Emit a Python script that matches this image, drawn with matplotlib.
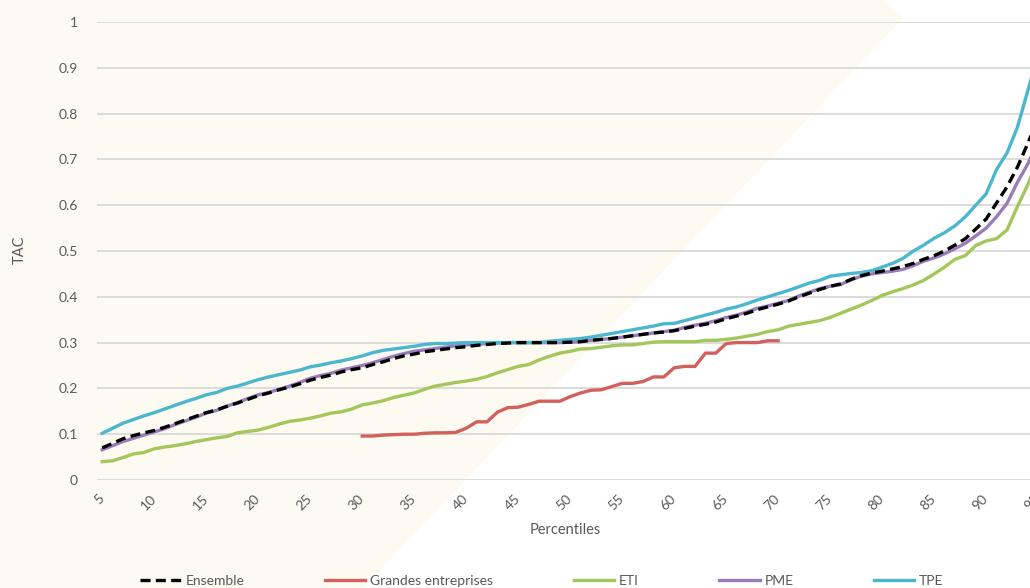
import matplotlib
matplotlib.use("Agg")
import matplotlib.pyplot as plt
from matplotlib.patches import Polygon

plt.rcParams['font.family'] = ['Lato', 'DejaVu Sans']

percentiles = list(range(5, 96))

tpe = [.102, .113, .124, .132, .140, .147, .155, .163, .171, .178,
       .186, .191, .200, .205, .212, .219, .225, .230, .235, .240,
       .247, .251, .256, .260, .265, .271, .278, .283, .286, .289,
       .292, .296, .298, .298, .299, .300, .300, .300, .300, .300,
       .300, .300, .300, .303, .305, .307, .309, .312, .316, .320,
       .324, .328, .332, .336, .341, .342, .348, .354, .360, .366,
       .373, .378, .385, .393, .400, .407, .414, .422, .430, .436,
       .445, .448, .451, .453, .457, .465, .473, .484, .500, .513,
       .528, .540, .555, .575, .600, .625, .678, .714, .770, .850, .930]

pme = [.066, .075, .084, .091, .098, .105, .112, .121, .129, .137,
       .146, .152, .161, .169, .178, .186, .191, .198, .205, .213,
       .222, .228, .233, .240, .245, .250, .256, .263, .270, .276,
       .281, .284, .287, .290, .293, .295, .296, .298, .299, .300,
       .300, .300, .300, .300, .300, .301, .302, .305, .307, .309,
       .312, .315, .318, .321, .324, .327, .333, .338, .342, .348,
       .355, .360, .367, .375, .380, .386, .392, .402, .410, .418,
       .423, .427, .437, .445, .450, .453, .456, .460, .468, .478,
       .485, .494, .505, .517, .533, .550, .575, .604, .650, .690, .740]

ensemble = [.070, .080, .090, .097, .103, .108, .115, .123, .131, .139,
            .147, .153, .161, .168, .176, .184, .190, .197, .203, .210,
            .218, .224, .229, .236, .241, .245, .252, .258, .265, .271,
            .275, .280, .283, .286, .289, .291, .294, .296, .298, .299,
            .300, .300, .300, .300, .300, .301, .302, .305, .307, .309,
            .312, .315, .318, .321, .323, .326, .331, .336, .340, .345,
            .352, .358, .364, .372, .378, .384, .391, .400, .408, .416,
            .423, .428, .438, .446, .452, .456, .461, .466, .473, .482,
            .490, .500, .513, .527, .548, .570, .605, .640, .683, .735, .790]

eti = [.040, .042, .049, .057, .060, .068, .072, .075, .079, .084,
       .088, .092, .095, .103, .106, .109, .115, .122, .128, .131,
       .135, .140, .146, .149, .155, .164, .168, .173, .180, .185,
       .190, .198, .205, .209, .213, .216, .220, .226, .234, .241,
       .248, .252, .262, .270, .277, .281, .286, .287, .290, .293,
       .295, .295, .298, .301, .302, .302, .302, .302, .305, .305,
       .307, .310, .314, .318, .324, .328, .336, .340, .344, .348,
       .355, .364, .373, .382, .392, .403, .411, .418, .426, .436,
       .450, .465, .482, .490, .512, .522, .527, .546, .597, .645, .700]

ge_percentiles = list(range(30, 71))
grandes = [.096, .096, .098, .099, .100, .100, .102, .103, .103, .104,
           .113, .127, .127, .148, .158, .159, .165, .172, .172, .172,
           .182, .190, .196, .197, .204, .211, .211, .215, .225, .225,
           .245, .248, .248, .277, .277, .298, .300, .300, .300, .304, .304]

xticks = list(range(5, 100, 5))
yticks = [0, 0.1, 0.2, 0.3, 0.4, 0.5, 0.6, 0.7, 0.8, 0.9, 1]
ytick_labels = ['0', '0.1', '0.2', '0.3', '0.4', '0.5', '0.6', '0.7', '0.8', '0.9', '1']

W, H = 1030, 588
fig = plt.figure(figsize=(W / 100, H / 100), dpi=100)
fig.patch.set_facecolor('white')

# beige watermark shape in the background
poly = Polygon([(0, 1), (885 / W, 1), (903 / W, 1 - 18 / H), (363 / W, 0), (0, 0)],
               closed=True, transform=fig.transFigure, facecolor='#FDFAF1',
               edgecolor='none', zorder=-10)
fig.patches.append(poly)

left = 97 / W
bottom = (H - 480) / H
height = 458 / H
width = 91 * 10.4 / W
ax = fig.add_axes([left, bottom, width, height])
ax.set_facecolor('none')
ax.set_zorder(1)

ax.set_xlim(4.5, 95.5)
ax.set_ylim(0, 1)

ax.set_yticks(yticks)
ax.set_yticklabels(ytick_labels)
ax.set_xticks(xticks)
ax.set_xticklabels([str(t) for t in xticks], rotation=45, ha='right',
                   rotation_mode='anchor', va='center')

grey = '#595959'
ax.tick_params(axis='both', length=0, colors=grey, labelsize=10)
ax.tick_params(axis='x', pad=12)
ax.tick_params(axis='y', pad=14)
for s in ax.spines.values():
    s.set_visible(False)
ax.yaxis.grid(True, color='#D9D9D9', linewidth=1.3)
ax.xaxis.grid(False)
ax.set_axisbelow(True)

lw = 2.4
ax.plot(percentiles, ensemble, color='black', lw=lw, ls=(0, (3, 1.6)), label='Ensemble', zorder=6)
ax.plot(ge_percentiles, grandes, color='#D2605C', lw=lw, label='Grandes entreprises', zorder=3)
ax.plot(percentiles, eti, color='#A3C75A', lw=lw, label='ETI', zorder=3)
ax.plot(percentiles, pme, color='#9A7CB8', lw=lw, label='PME', zorder=4)
ax.plot(percentiles, tpe, color='#4BB7CF', lw=lw, label='TPE', zorder=5)

fig.text(565 / W, 1 - 530 / H, 'Percentiles', ha='center', va='center', color=grey, fontsize=10.5)
fig.text(20 / W, 1 - 250 / H, 'TAC', ha='center', va='center', rotation=90, color=grey, fontsize=10.5)

handles, labels = ax.get_legend_handles_labels()
leg = fig.legend(handles, labels, loc='center', bbox_to_anchor=(542 / W, 1 - 581 / H),
                 ncol=5, frameon=False, fontsize=10, handlelength=2.9,
                 handletextpad=0.35, columnspacing=5.8, labelcolor=grey)

fig.savefig('out.png', dpi=100, facecolor='white')
